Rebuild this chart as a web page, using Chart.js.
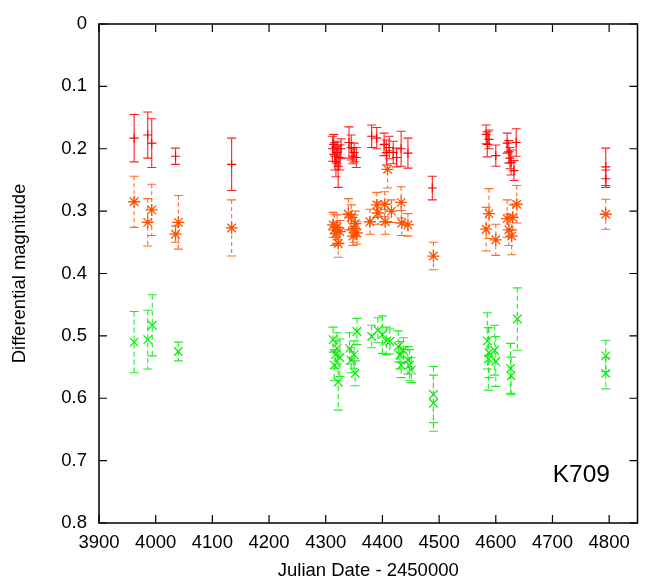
<!DOCTYPE html>
<html><head><meta charset="utf-8">
<script src="https://cdn.jsdelivr.net/npm/chart.js@4.4.0/dist/chart.umd.min.js"></script>
<style>html,body{margin:0;padding:0;background:#fff;}canvas{display:block;}</style>
</head><body>
<canvas id="c" width="670" height="582"></canvas>
<script>
// ---- tick labels ----
const xTickValues = [3900, 4000, 4100, 4200, 4300, 4400, 4500, 4600, 4700, 4800];
const xTickLabels = ['3900','4000','4100','4200','4300','4400','4500','4600','4700','4800'];
const yTickValues = [0, 0.1, 0.2, 0.3, 0.4, 0.5, 0.6, 0.7, 0.8];
const yTickLabels = ['0','0.1','0.2','0.3','0.4','0.5','0.6','0.7','0.8'];
const xTitle = 'Julian Date - 2450000';
const yTitle = 'Differential magnitude';
const starLabel = 'K709';

// ---- series 1 (red, +) ----
const redDates = [3962,3986,3993,4035,4134,
  4312,4314,4316,4318,4320,4322,4325,4327,
  4341,4345,4348,4350,4354,
  4381,4390,4403,4407,4412,4419,4425,4433,4445,4488,
  4583,4585,4588,4600,4620,4623,4625,4627,4632,4636,4794,4794];
const redMags = [0.183,0.178,0.191,0.212,0.225,
  0.200,0.193,0.212,0.221,0.206,0.228,0.214,0.200,
  0.190,0.198,0.212,0.206,0.214,
  0.180,0.183,0.193,0.206,0.198,0.206,0.214,0.200,0.207,0.263,
  0.177,0.193,0.185,0.211,0.191,0.205,0.215,0.222,0.235,0.190,0.229,0.248];
const redErrs = [0.038,0.037,0.039,0.013,0.042,
  0.020,0.016,0.022,0.024,0.018,0.034,0.020,0.016,
  0.025,0.020,0.012,0.015,0.016,
  0.018,0.017,0.018,0.020,0.018,0.018,0.015,0.028,0.024,0.019,
  0.015,0.020,0.015,0.017,0.016,0.018,0.017,0.020,0.016,0.022,0.030,0.014];

// ---- series 2 (orange, *) ----
const orangeDates = [3962,3986,3993,4035,4040,4134,
  4313,4315,4318,4320,4322,4325,
  4340,4345,4348,4350,4352,4355,
  4378,4390,4392,4404,4405,4409,4416,4433,4434,4445,4490,
  4583,4588,4600,4620,4623,4628,4630,4637,4794];
const orangeMags = [0.285,0.318,0.298,0.337,0.318,0.327,
  0.322,0.330,0.336,0.326,0.352,0.333,
  0.305,0.310,0.340,0.328,0.320,0.335,
  0.317,0.290,0.303,0.289,0.317,0.233,0.300,0.286,0.319,0.322,0.372,
  0.329,0.304,0.346,0.312,0.330,0.340,0.310,0.289,0.305];
const orangeErrs = [0.041,0.038,0.041,0.013,0.043,0.045,
  0.020,0.025,0.018,0.020,0.022,0.018,
  0.025,0.020,0.015,0.022,0.020,0.018,
  0.020,0.020,0.018,0.020,0.020,0.030,0.018,0.025,0.020,0.018,0.022,
  0.035,0.040,0.025,0.030,0.025,0.030,0.020,0.030,0.024];

// ---- series 3 (green, x) ----
const greenDates = [3962,3986,3994,4040,
  4313,4315,4317,4320,4322,4325,
  4342,4345,4350,4352,4355,
  4381,4392,4400,4407,4413,4428,4431,4433,4437,4445,4448,4451,4490,4490,
  4585,4587,4588,4598,4600,4626,4627,4638,4794,4794];
const greenMags = [0.510,0.506,0.483,0.525,
  0.506,0.547,0.530,0.520,0.574,0.535,
  0.520,0.539,0.530,0.560,0.493,
  0.501,0.491,0.498,0.508,0.509,0.517,0.531,0.547,0.523,0.539,0.547,0.555,0.594,0.608,
  0.508,0.537,0.527,0.523,0.541,0.552,0.564,0.473,0.532,0.560];
const greenErrs = [0.049,0.047,0.049,0.015,
  0.020,0.025,0.022,0.025,0.045,0.030,
  0.025,0.020,0.022,0.020,0.021,
  0.018,0.020,0.030,0.022,0.020,0.025,0.022,0.020,0.020,0.022,0.025,0.020,0.045,0.045,
  0.045,0.050,0.040,0.040,0.040,0.040,0.030,0.050,0.025,0.025];

const toPts = (xs, ys) => xs.map((v, i) => ({x: v, y: ys[i]}));

const FONT = '"Liberation Sans", Arial, Helvetica, sans-serif';

const errorBarPlugin = {
  id: 'errorBars',
  beforeDatasetsDraw(chart) {
    const {ctx, chartArea: a, scales: {x, y}} = chart;
    ctx.save();
    ctx.beginPath(); ctx.rect(a.left, a.top, a.right - a.left, a.bottom - a.top); ctx.clip();
    chart.data.datasets.forEach(ds => {
      ctx.strokeStyle = ds.errColor;
      ctx.lineWidth = 1.1;
      ds.data.forEach((p, i) => {
        const e = ds.errors[i];
        const px = x.getPixelForValue(p.x);
        const y1 = y.getPixelForValue(p.y - e);
        const y2 = y.getPixelForValue(p.y + e);
        ctx.setLineDash(ds.errDash);
        ctx.beginPath(); ctx.moveTo(px, y1); ctx.lineTo(px, y2); ctx.stroke();
        ctx.setLineDash([]);
        ctx.beginPath();
        ctx.moveTo(px - 4.5, y1); ctx.lineTo(px + 4.5, y1);
        ctx.moveTo(px - 4.5, y2); ctx.lineTo(px + 4.5, y2);
        ctx.stroke();
      });
    });
    ctx.restore();
  }
};

const framePlugin = {
  id: 'frame',
  afterDraw(chart) {
    const {ctx, chartArea: a, scales: {x, y}} = chart;
    ctx.save();
    ctx.strokeStyle = '#000';
    ctx.lineWidth = 1.5;
    ctx.strokeRect(a.left, a.top, a.right - a.left, a.bottom - a.top);
    ctx.lineWidth = 1.2;
    ctx.beginPath();
    const tl = 8;
    xTickValues.forEach(v => {
      const px = x.getPixelForValue(v);
      ctx.moveTo(px, a.bottom); ctx.lineTo(px, a.bottom - tl);
      ctx.moveTo(px, a.top); ctx.lineTo(px, a.top + tl);
    });
    yTickValues.forEach(v => {
      const py = y.getPixelForValue(v);
      ctx.moveTo(a.left, py); ctx.lineTo(a.left + tl, py);
      ctx.moveTo(a.right, py); ctx.lineTo(a.right - tl, py);
    });
    ctx.stroke();
    ctx.fillStyle = '#000';
    ctx.font = '24.5px ' + FONT;
    ctx.textAlign = 'right';
    ctx.textBaseline = 'alphabetic';
    ctx.fillText(starLabel, a.right - 27.5, a.bottom - 41);
    ctx.restore();
  }
};

new Chart(document.getElementById('c'), {
  type: 'scatter',
  data: {
    datasets: [
      {label: 'r', data: toPts(redDates, redMags), errors: redErrs,
       errColor: '#ff2020', errDash: [],
       pointStyle: 'cross', radius: 4.5, borderColor: '#ff0000', backgroundColor: '#ff0000', borderWidth: 1.1},
      {label: 'o', data: toPts(orangeDates, orangeMags), errors: orangeErrs,
       errColor: '#ff6a20', errDash: [4, 3],
       pointStyle: 'star', radius: 6, borderColor: '#ff5000', backgroundColor: '#ff5000', borderWidth: 1.3},
      {label: 'g', data: toPts(greenDates, greenMags), errors: greenErrs,
       errColor: '#20ee20', errDash: [5, 3],
       pointStyle: 'crossRot', radius: 6, borderColor: '#00ee00', backgroundColor: '#00ee00', borderWidth: 1.2}
    ]
  },
  options: {
    responsive: false,
    animation: false,
    layout: {padding: {top: 24, right: 32.5, left: 0, bottom: 0}},
    plugins: {legend: {display: false}, tooltip: {enabled: false}},
    scales: {
      x: {
        type: 'linear', min: 3900, max: 4850,
        grid: {display: false, drawTicks: false}, border: {display: false},
        afterBuildTicks: s => { s.ticks = xTickValues.map(v => ({value: v})); },
        afterFit: s => { s.height = 59; },
        ticks: {padding: 9, color: '#000', font: {family: FONT, size: 18.5},
          callback: (v, i) => xTickLabels[i], maxRotation: 0, autoSkip: false},
        title: {display: true, text: xTitle, color: '#000', font: {family: FONT, size: 18.5}, padding: {top: 0, bottom: 0}}
      },
      y: {
        type: 'linear', min: 0, max: 0.8, reverse: true,
        grid: {display: false, drawTicks: false}, border: {display: false},
        afterBuildTicks: s => { s.ticks = yTickValues.map(v => ({value: v})); },
        afterFit: s => { s.width = 99; },
        ticks: {padding: 12, color: '#000', font: {family: FONT, size: 18.5},
          callback: (v, i) => yTickLabels[i], autoSkip: false},
        title: {display: true, text: yTitle, color: '#000', font: {family: FONT, size: 18.5}, padding: {top: 9, bottom: 0}}
      }
    }
  },
  plugins: [errorBarPlugin, framePlugin]
});
</script>
</body></html>
